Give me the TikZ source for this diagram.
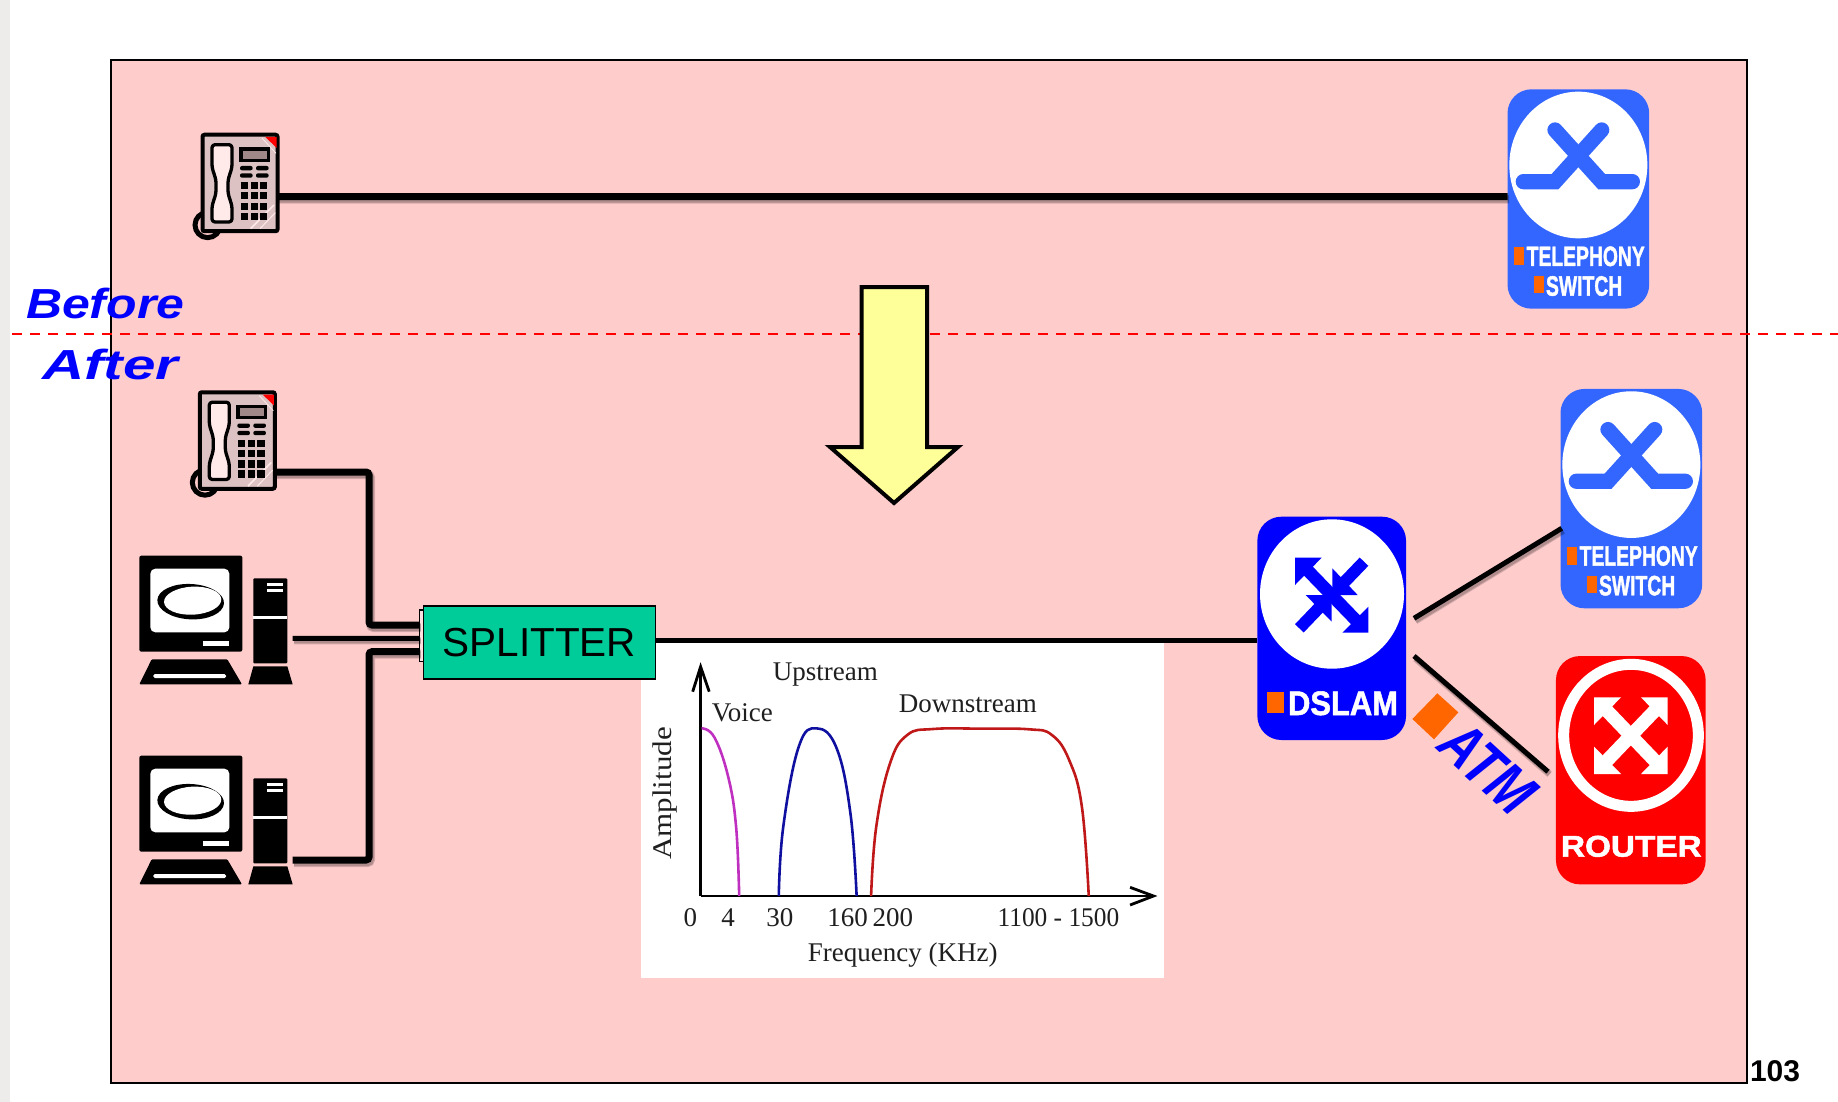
\documentclass[tikz,border=0pt]{standalone}
\usepackage{graphicx}
\usepackage{fontspec}
\setmainfont{Liberation Sans}
\newfontfamily\grserif{Liberation Serif}
\newfontfamily\heavyfont{Liberation Sans}[BoldFeatures={FakeBold=1.6}]
\definecolor{slidepink}{HTML}{FFCCCC}
\definecolor{swblue}{HTML}{3366FF}
\definecolor{markorange}{HTML}{FF6600}
\definecolor{splitgreen}{HTML}{00CC99}
\definecolor{phonebody}{HTML}{DCC2C2}
\definecolor{phonelight}{HTML}{FFE9E9}
\definecolor{phonescreen}{HTML}{A08888}
\definecolor{sideline}{HTML}{EDECEA}
\newcommand\sx[3]{\fontsize{#1}{#1}\selectfont\scalebox{#2}[1]{#3}}
\tikzset{
  lbl/.style={inner sep=0,outer sep=0,anchor=base west},
  boxnode/.style={inner sep=0,outer sep=0,rounded corners=24pt},
  wire/.style={draw=black,line width=#1,rounded corners=3pt},
  wireshadow/.style={transform canvas={xshift=1.5pt,yshift=-2.5pt},draw=black,opacity=.17,line width=#1,rounded corners=3pt},
  graphlbl/.style={inner sep=0,outer sep=0,anchor=base,text=black!88,font=\grserif\fontsize{27}{27}\selectfont},
  gaxis/.style={line width=2.8pt,black},
  gcurve/.style={line width=2.6pt,smooth,tension=.7},
}
\newcommand\wirepath[2]{%
  \draw[wireshadow=#1+2pt] #2;
  \draw[wireshadow=#1] #2;
  \draw[wire=#1] #2;}
% phone: zoom-coordinates, 1/3 scale
\newcommand\phoneicon[3]{%
\begin{scope}[shift={(#2,#3)},scale=1/3]
  \draw[line width=5pt] (263,345) circle [radius=38];
  \node[draw=black,fill=phonebody,line width=4pt,rounded corners=2pt,inner sep=0,outer sep=0,minimum width=75pt,minimum height=96.5pt] (#1) at (360,219) {};
  \fill[red] (436,81) -- (470,81) -- (470,114) -- cycle;
  \draw[phonelight,line width=.8pt] (426,84) -- (468,130);
  \draw[phonelight,line width=1.6pt] (392,356) -- (462,285);
  \draw[phonelight,line width=1pt] (420,356) -- (466,308);
  \draw[black,fill=phonelight,line width=3.3pt,rounded corners=3pt,line join=round]
    (276,104) -- (336,104) -- (336,172) -- (324,210) -- (324,250) -- (336,288) -- (336,336) -- (276,336) -- (276,288) -- (288,250) -- (288,210) -- (276,172) -- cycle;
  \fill[black] (357,112) rectangle (450,155);
  \fill[phonescreen] (368,122) rectangle (440,146);
  \foreach \ya in {168,190}{
    \fill[black,rounded corners=2pt] (360,\ya) rectangle (398,\ya+13);
    \fill[black,rounded corners=2pt] (408,\ya) rectangle (446,\ya+13);}
  \foreach \ka in {362,392,420}\foreach \kb in {216,246,278,308}
    \fill[black] (\ka,\kb) rectangle (\ka+22,\kb+22);
\end{scope}}
% computer
\newcommand\pcicon[3]{%
\begin{scope}[shift={(#2,#3)},scale=1/3]
  \node[inner sep=0,outer sep=0,minimum width=153.3pt,minimum height=128.7pt] (#1) at (288,240) {};
  \fill[black,rounded corners=2pt] (58,47) rectangle (367,335);
  \fill[white,rounded corners=5pt] (91,86) rectangle (328,277);
  \fill[black,rotate around={-3:(212,185)}] (212,185) ellipse [x radius=100,y radius=53];
  \fill[white,rotate around={3:(218,182)}] (218,182) ellipse [x radius=86,y radius=42];
  \fill[white] (249,303) rectangle (327,318);
  \fill[black,rounded corners=1pt] (95,358) -- (322,358) -- (366,433) -- (58,433) -- cycle;
  \fill[white,rounded corners=1.5pt] (100,402) rectangle (318,414);
  \fill[black,rounded corners=1pt] (400,115) rectangle (502,370);
  \fill[black] (400,379) -- (502,379) -- (518,433) -- (385,433) -- cycle;
  \fill[white] (400,228) rectangle (502,237);
  \fill[white] (442,128) rectangle (490,137);
  \fill[white] (442,146) rectangle (490,155);
\end{scope}}
% telephony switch
\newcommand\telswitch[3]{%
\begin{scope}[shift={(#2,#3)},scale=1/3]
  \node[boxnode,fill=swblue,minimum width=141.7pt,minimum height=219.4pt] (#1) at (265,357) {};
  \fill[white] (265,255) ellipse [x radius=207,y radius=220];
  \draw[swblue,line width=15.3pt,line cap=round,line join=miter] (100,305) -- (195,305) -- (335,150);
  \draw[swblue,line width=15.3pt,line cap=round,line join=miter] (427,305) -- (335,305) -- (195,150);
  \fill[markorange] (72,502) rectangle (102,555);
  \fill[markorange] (132,588) rectangle (162,640);
  \node[lbl,text=white,font=\heavyfont\bfseries] (#1a) at (110,558) {\sx{28}{.69}{TELEPHONY}};
  \node[lbl,text=white,font=\heavyfont\bfseries] (#1b) at (168,647) {\sx{28}{.69}{SWITCH}};
\end{scope}}
\begin{document}
\begin{tikzpicture}[x=1pt,y=-1pt]
\useasboundingbox (0,0) rectangle (1838,1102);
\fill[white] (0,0) rectangle (1838,1102);
\fill[sideline] (0,0) rectangle (10,1102);
% slide panel
\draw[black,line width=2pt,fill=slidepink] (110.5,60) rectangle (1747,1083);
% before / after
\node[lbl,text={rgb,255:red,0;green,0;blue,255},font=\bfseries\itshape] (before) at (26,318) {\sx{42}{1.19}{Before}};
\node[lbl,text={rgb,255:red,0;green,0;blue,255},font=\bfseries\itshape] (after) at (42,379) {\sx{42}{1.39}{After}};
\coordinate (dashL) at (12,334);
\coordinate (dashR) at (1838,334);
\draw[red,line width=2.6pt,dash pattern=on 10pt off 8pt] (dashL) -- (dashR);
% transition arrow
\draw[black,fill={rgb,255:red,255;green,255;blue,153},line width=4pt,miter limit=10]
  (861.5,287) -- (927,287) -- (927,447) -- (958,447) -- (894,503) -- (830,447) -- (861.5,447) -- cycle;
% icons
\phoneicon{phoneA}{120}{110}
\phoneicon{phoneB}{117.3}{367.5}
\pcicon{pcA}{120}{540}
\pcicon{pcB}{120}{740}
\telswitch{switchA}{1490}{80}
\telswitch{switchB}{1543}{379.6}
% before wire
\wirepath{7pt}{([yshift=-13.7pt]phoneA.east) -- ([yshift=2.3pt]switchA.west)}
% graph panel
\fill[white] (641,640) rectangle (1164,978);
% splitter
\node[draw=black,fill=slidepink!60!white,line width=1.2pt,inner sep=0,outer sep=0,minimum width=4pt,minimum height=51.7pt] (tab) at (421.3,635.85) {};
\node[draw=black,fill=splitgreen,line width=1.6pt,inner sep=0,outer sep=0,minimum width=232pt,minimum height=73pt,font=\fontsize{40.5}{40.5}\selectfont] (splitter) at (539.3,642.5) {SPLITTER};
% DSLAM
\node[boxnode,fill={rgb,255:red,0;green,0;blue,255},minimum width=148.7pt,minimum height=223.3pt] (dslam) at (1331.7,628.35) {};
\fill[white] (1332,594) ellipse [x radius=72,y radius=74.7];
\begin{scope}[shift={(1240,500)},scale=1/3,blue]
  \fill (165,173) -- (245,173) -- (165,255) -- cycle;
  \fill (385,398) -- (385,320) -- (307,398) -- cycle;
  \draw[line width=12.5pt] (200,208) -- (350,363);
  \fill (277,205) -- (353,285) -- (277,285) -- cycle;
  \fill (197,285) -- (275,285) -- (275,365) -- cycle;
  \draw[line width=12pt] (372,185) -- (300,260);
  \draw[line width=12pt] (178,385) -- (250,310);
  \fill[markorange] (81,576) rectangle (132,638);
  \node[lbl,text=white,font=\heavyfont\bfseries] (dslamtxt) at (144,645) {\sx{34}{.91}{DSLAM}};
\end{scope}
% router
\node[boxnode,fill=red,minimum width=149.7pt,minimum height=228.3pt] (router) at (1630.8,770.2) {};
\begin{scope}[shift={(1240,500)},scale=1/3]
  \draw[white,line width=11pt] (1173,706) ellipse [x radius=202,y radius=213];
  \foreach \ra/\rb/\rc/\rd/\re/\rf in {1062/592/1143/592/1062/675,1283/592/1203/592/1283/675,1062/822/1143/822/1062/740,1283/822/1203/822/1283/740}
    \fill[white] (\ra,\rb) -- (\rc,\rd) -- (\re,\rf) -- cycle;
  \draw[white,line width=13.5pt] (1095,626) -- (1250,788);
  \draw[white,line width=13.5pt] (1250,626) -- (1095,788);
  \node[lbl,text=white,font=\heavyfont\bfseries] (routertxt) at (963,1070) {\sx{30}{1.11}{ROUTER}};
  \fill[markorange] (592,580) -- (655,637) -- (582,718) -- (517,657) -- cycle;
\end{scope}
\node[lbl,rotate=-42.5,text={rgb,255:red,0;green,0;blue,255},font=\bfseries\itshape] (atm) at (1435,748.3) {\sx{62}{.80}{ATM}};
% after wires
\coordinate (bendA) at (369,472);
\coordinate (bendB) at (369,625);
\coordinate (bendC) at (369,860);
\coordinate (bendD) at (369,651.7);
\wirepath{7pt}{([yshift=-31.5pt]phoneB.east) -- (bendA) -- (bendB) -- ([yshift=10.85pt]tab.west)}
\wirepath{5pt}{([yshift=-18.3pt]pcA.east) -- ([yshift=-2.45pt]tab.west)}
\wirepath{7pt}{([yshift=-40pt]pcB.east) -- (bendC) -- (bendD) -- ([yshift=-15.85pt]tab.west)}
\draw[wire=5pt] ([yshift=2.5pt]splitter.east) -- ([yshift=-11.65pt]dslam.west);
\coordinate (dslamUp) at (1414,618.3);
\coordinate (switchPort) at (1561.7,528.3);
\coordinate (dslamDown) at (1414,656);
\coordinate (routerPort) at (1548,771.7);
\wirepath{5pt}{(dslamUp) -- (switchPort)}
\wirepath{5pt}{(dslamDown) -- (routerPort)}
% spectrum graph
\begin{scope}[shift={(630,640)},xscale=.3444,yscale=1/3]
  \draw[gaxis] (205,768) -- (205,80);
  \draw[gaxis] (205,768) -- (1515,768);
  \draw[gaxis] (182,155) -- (205,80) -- (230,155);
  \draw[gaxis] (1452,742) -- (1520,768) -- (1452,795);
  \draw[gcurve,draw={rgb,255:red,192;green,48;blue,192}] plot coordinates {(208,265) (245,292) (285,410) (308,560) (317,768)};
  \draw[gcurve,draw={rgb,255:red,16;green,16;blue,160}] plot coordinates {(432,768) (445,560) (490,320) (542,265) (600,325) (640,520) (658,768)};
  \draw[gcurve,draw={rgb,255:red,192;green,24;blue,24}] plot coordinates {(700,768) (715,560) (755,370) (805,285) (880,267) (1020,266) (1160,268) (1225,285) (1275,360) (1312,500) (1332,768)};
  \node[graphlbl] (gUp) at (567,120) {Upstream};
  \node[graphlbl] (gVoice) at (326,243) {Voice};
  \node[graphlbl] (gDown) at (981,217) {Downstream};
  \node[graphlbl,rotate=90] (gAmp) at (121,460) {\scalebox{1.15}[1]{Amplitude}};
  \node[graphlbl] (g0) at (175,860) {0};
  \node[graphlbl] (g4) at (285,860) {4};
  \node[graphlbl] (g30) at (435,860) {30};
  \node[graphlbl] (g160) at (632,860) {160};
  \node[graphlbl] (g200) at (763,860) {200};
  \node[graphlbl] (g1100) at (1244,860) {\scalebox{.94}[1]{1100 - 1500}};
  \node[graphlbl] (gFreq) at (792,964) {Frequency (KHz)};
\end{scope}
% page number
\node[lbl,font=\bfseries] (pagenum) at (1750,1081) {\sx{30}{1}{103}};
\end{tikzpicture}
\end{document}
